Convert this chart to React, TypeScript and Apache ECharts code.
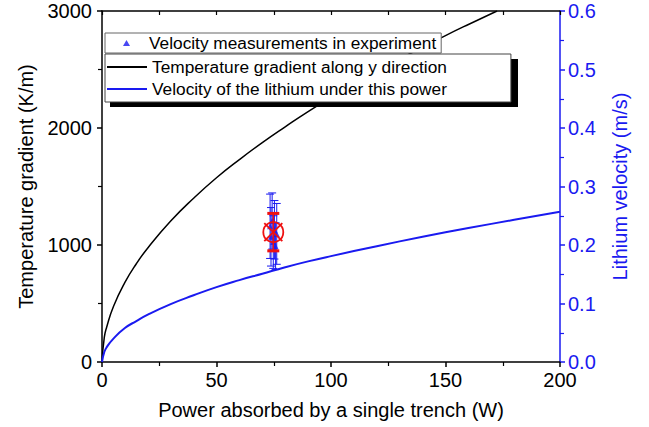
import React, { useEffect, useRef } from "react";
import * as echarts from "echarts";

// ---- data ----
const xPower = [0, 1, 2, 5, 10, 15, 20, 30, 40, 50, 60, 70, 80, 90, 100, 110, 120, 130, 140, 150, 160, 172.5];
const tempGradient = [0, 210, 295, 475, 680, 840, 975, 1205, 1400, 1575, 1730, 1875, 2010, 2140, 2260, 2375, 2485, 2590, 2690, 2790, 2885, 3000];

const xVel = [0, 1, 2, 5, 10, 15, 20, 30, 40, 50, 60, 70, 80, 90, 100, 120, 140, 160, 180, 200];
const velocity = [0, 0.017, 0.025, 0.04, 0.058, 0.07, 0.081, 0.099, 0.114, 0.128, 0.14, 0.151, 0.162, 0.172, 0.181, 0.198, 0.214, 0.229, 0.243, 0.257];

const measX = [73.4, 73.8, 74.3, 74.8, 75.3, 75.8, 76.3];
const measV = [0.232, 0.214, 0.241, 0.205, 0.226, 0.198, 0.219];
const measErr = [0.055, 0.05, 0.048, 0.045, 0.05, 0.04, 0.052];

const meanX = [74.8];
const meanV = [0.222];
const meanErr = [0.032];

const xTicks = [0, 50, 100, 150, 200];
const leftTicks = [0, 1000, 2000, 3000];
const rightTicks = [0, 0.1, 0.2, 0.3, 0.4, 0.5, 0.6];

const NAME_MEAS = "Velocity measurements in experiment";
const NAME_TEMP = "Temperature gradient along y direction";
const NAME_VEL = "Velocity of the lithium under this power";

const BLUE = "#1a1af0";
const RED = "#ee1111";
const FONT = "Liberation Sans, Arial, sans-serif";

export default function App() {
  const ref = useRef<HTMLDivElement>(null);

  useEffect(() => {
    if (!ref.current) return;
    const chart = echarts.init(ref.current, null, { renderer: "svg" });

    const errData = measX.map((x, i) => [x, measV[i] - measErr[i], measV[i] + measErr[i]]);
    const meanErrData = meanX.map((x, i) => [x, meanV[i] - meanErr[i], meanV[i] + meanErr[i]]);

    const errorBar = (color: string, lw: number, capHalf: number, capLw: number) =>
      (params: any, api: any) => {
        const x = api.value(0);
        const lo = api.value(1);
        const hi = api.value(2);
        const pHi = api.coord([x, hi]);
        const pLo = api.coord([x, lo]);
        return {
          type: "group",
          children: [
            { type: "line", shape: { x1: pHi[0], y1: pHi[1], x2: pLo[0], y2: pLo[1] }, style: { stroke: color, lineWidth: lw } },
            { type: "line", shape: { x1: pHi[0] - capHalf, y1: pHi[1], x2: pHi[0] + capHalf, y2: pHi[1] }, style: { stroke: color, lineWidth: capLw } },
            { type: "line", shape: { x1: pLo[0] - capHalf, y1: pLo[1], x2: pLo[0] + capHalf, y2: pLo[1] }, style: { stroke: color, lineWidth: capLw } },
          ],
        };
      };

    chart.setOption({
      animation: false,
      backgroundColor: "#fff",
      textStyle: { fontFamily: FONT },
      grid: { left: 102, right: 89, top: 11, bottom: 65, containLabel: false },
      graphic: [
        { type: "rect", z: 90, shape: { x: 110, y: 59, width: 408, height: 48 }, style: { fill: "#000" } },
      ],
      legend: [
        {
          z: 100,
          left: 105,
          top: 33,
          orient: "horizontal",
          data: [{ name: NAME_MEAS, icon: "triangle" }],
          itemWidth: 7,
          itemHeight: 6,
          padding: [1, 5, 1, 18],
          backgroundColor: "#fff",
          borderColor: "#666",
          borderWidth: 1,
          textStyle: { fontSize: 17.3, color: "#000", fontFamily: FONT, lineHeight: 18, padding: [0, 0, 0, 14] },
        },
        {
          z: 100,
          left: 105,
          top: 54,
          orient: "vertical",
          data: [
            { name: NAME_TEMP, icon: "rect" },
            { name: NAME_VEL, icon: "rect" },
          ],
          itemWidth: 40,
          itemHeight: 2,
          itemGap: 2,
          padding: [3, 64, 3, 2],
          backgroundColor: "#fff",
          borderColor: "#444",
          borderWidth: 1,
          textStyle: { fontSize: 17.3, color: "#000", fontFamily: FONT, lineHeight: 20 },
        },
      ],
      xAxis: [
        {
          type: "value",
          position: "bottom",
          min: xTicks[0],
          max: xTicks[xTicks.length - 1],
          interval: 50,
          name: "Power absorbed by a single trench (W)",
          nameLocation: "middle",
          nameGap: 38,
          nameTextStyle: { fontSize: 20, color: "#000", fontFamily: FONT },
          axisLine: { show: true, onZero: false, lineStyle: { color: "#000", width: 1.5 } },
          axisTick: { show: true, inside: false, length: 5, lineStyle: { color: "#000", width: 1.5 } },
          minorTick: { show: true, splitNumber: 2, length: 4, lineStyle: { color: "#000", width: 1.2 } },
          axisLabel: { fontSize: 20, color: "#000", margin: 8, fontFamily: FONT },
          splitLine: { show: false },
        },
        {
          type: "value",
          position: "top",
          min: xTicks[0],
          max: xTicks[xTicks.length - 1],
          interval: 50,
          axisLine: { show: true, onZero: false, lineStyle: { color: "#000", width: 1.5 } },
          axisTick: { show: true, inside: true, length: 4, lineStyle: { color: "#000", width: 1.2 } },
          minorTick: { show: true, splitNumber: 2, length: 4, lineStyle: { color: "#000", width: 1.2 } },
          axisLabel: { show: false },
          splitLine: { show: false },
        },
      ],
      yAxis: [
        {
          type: "value",
          position: "left",
          min: leftTicks[0],
          max: leftTicks[leftTicks.length - 1],
          interval: 1000,
          name: "Temperature gradient (K/m)",
          nameLocation: "middle",
          nameGap: 66,
          nameTextStyle: { fontSize: 20, color: "#000", fontFamily: FONT },
          axisLine: { show: true, onZero: false, lineStyle: { color: "#000", width: 1.5 } },
          axisTick: { show: true, inside: false, length: 5, lineStyle: { color: "#000", width: 1.5 } },
          minorTick: { show: true, splitNumber: 2, length: 4, lineStyle: { color: "#000", width: 1.2 } },
          axisLabel: { fontSize: 20, color: "#000", margin: 10, fontFamily: FONT, formatter: (v: number) => String(v) },
          splitLine: { show: false },
        },
        {
          type: "value",
          position: "right",
          min: rightTicks[0],
          max: rightTicks[rightTicks.length - 1],
          interval: 0.1,
          name: "Lithium velocity (m/s)",
          nameLocation: "middle",
          nameGap: 50,
          nameTextStyle: { fontSize: 20, color: BLUE, fontFamily: FONT },
          axisLine: { show: true, onZero: false, lineStyle: { color: BLUE, width: 1.5 } },
          axisTick: { show: true, inside: false, length: 5, lineStyle: { color: BLUE, width: 1.5 } },
          minorTick: { show: true, splitNumber: 2, length: 4, lineStyle: { color: BLUE, width: 1.2 } },
          axisLabel: { fontSize: 20, color: BLUE, margin: 8, fontFamily: FONT, formatter: (v: number) => v.toFixed(1) },
          splitLine: { show: false },
        },
      ],
      series: [
        {
          name: NAME_TEMP,
          type: "line",
          xAxisIndex: 0,
          yAxisIndex: 0,
          data: xPower.map((x, i) => [x, tempGradient[i]]),
          showSymbol: false,
          smooth: true,
          lineStyle: { color: "#000", width: 1.5 },
          itemStyle: { color: "#000" },
          z: 3,
        },
        {
          name: NAME_VEL,
          type: "line",
          xAxisIndex: 0,
          yAxisIndex: 1,
          data: xVel.map((x, i) => [x, velocity[i]]),
          showSymbol: false,
          smooth: true,
          lineStyle: { color: BLUE, width: 2 },
          itemStyle: { color: BLUE },
          z: 3,
        },
        {
          name: "measErr",
          type: "custom",
          xAxisIndex: 0,
          yAxisIndex: 1,
          data: errData,
          renderItem: errorBar(BLUE, 1, 4, 1),
          encode: { x: 0, y: [1, 2] },
          z: 4,
        },
        {
          name: NAME_MEAS,
          type: "scatter",
          xAxisIndex: 0,
          yAxisIndex: 1,
          data: measX.map((x, i) => [x, measV[i]]),
          symbol: "triangle",
          symbolSize: 6,
          itemStyle: { color: BLUE },
          z: 5,
        },
        {
          name: "meanErr",
          type: "custom",
          xAxisIndex: 0,
          yAxisIndex: 1,
          data: meanErrData,
          renderItem: errorBar(RED, 1.5, 6, 3),
          encode: { x: 0, y: [1, 2] },
          z: 6,
        },
        {
          name: "mean",
          type: "custom",
          xAxisIndex: 0,
          yAxisIndex: 1,
          data: meanX.map((x, i) => [x, meanV[i]]),
          renderItem: (params: any, api: any) => {
            const p = api.coord([api.value(0), api.value(1)]);
            const r = 10;
            const d = 9;
            return {
              type: "group",
              children: [
                { type: "circle", shape: { cx: p[0], cy: p[1], r }, style: { fill: "none", stroke: RED, lineWidth: 1.8 } },
                { type: "line", shape: { x1: p[0] - d, y1: p[1] - d, x2: p[0] + d, y2: p[1] + d }, style: { stroke: RED, lineWidth: 1.8 } },
                { type: "line", shape: { x1: p[0] - d, y1: p[1] + d, x2: p[0] + d, y2: p[1] - d }, style: { stroke: RED, lineWidth: 1.8 } },
              ],
            };
          },
          encode: { x: 0, y: 1 },
          z: 7,
        },
      ],
    });

    return () => chart.dispose();
  }, []);

  return <div ref={ref} style={{ position: "absolute", left: 0, top: 0, width: 649, height: 427 }} />;
}
